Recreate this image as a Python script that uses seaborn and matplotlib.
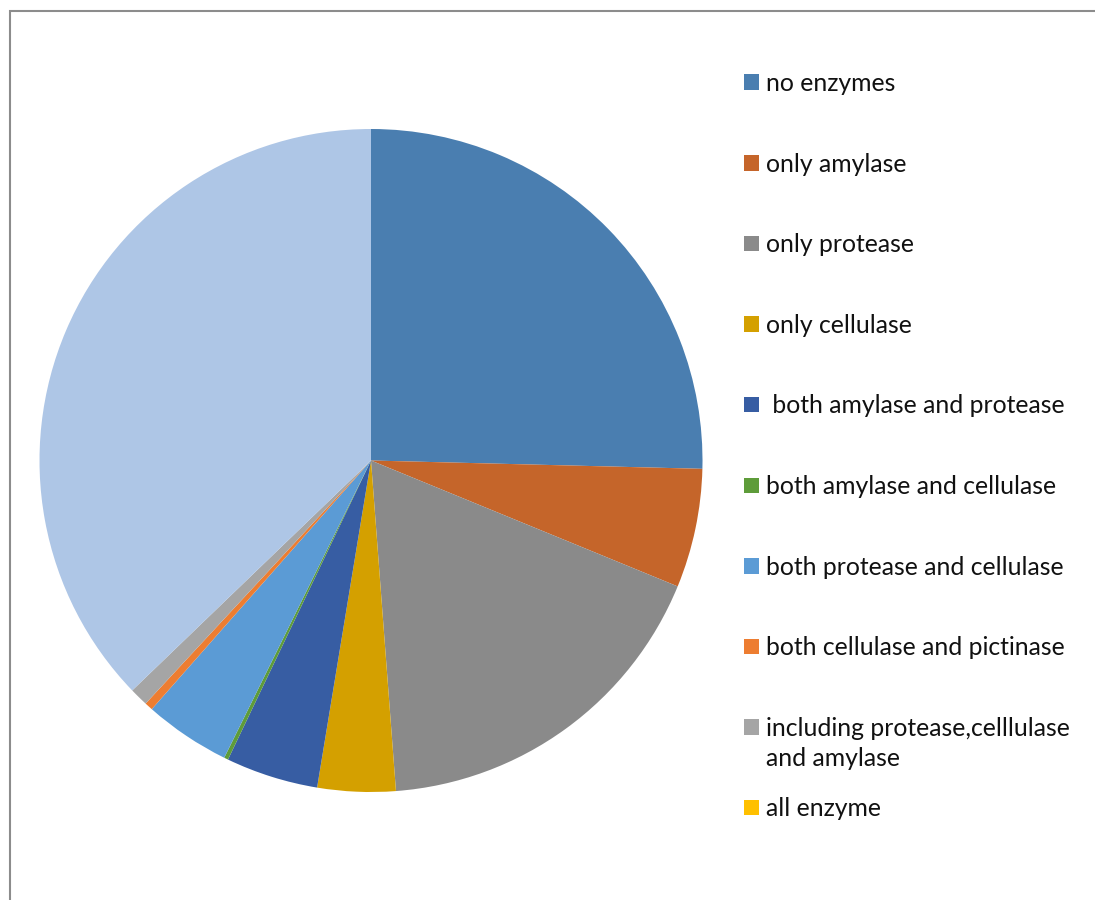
import matplotlib
matplotlib.use("Agg")
import matplotlib.pyplot as plt
from matplotlib.patches import Rectangle
import seaborn as sns

# enzyme groups (percent of isolates)
labels = ["no enzymes", "only amylase", "only protease", "only cellulase",
          " both amylase and protease", "both amylase and cellulase",
          "both protease and cellulase", "both cellulase and pictinase",
          "including protease,celllulase\nand amylase", "all enzyme", ""]
values = [25.4, 5.8, 17.6, 3.8, 4.5, 0.2, 4.2, 0.4, 0.9, 0.0, 37.2]
colors = ["#4A7EB0", "#C5652A", "#8A8A8A", "#D4A000", "#375DA3", "#5E9C3A",
          "#5B9BD5", "#ED7D31", "#A5A5A5", "#FFC000", "#AEC6E6"]

sns.set_theme(style="white")
plt.rcParams["font.family"] = ["Lato", "DejaVu Sans"]

W, H = 1095, 900
fig = plt.figure(figsize=(W / 100, H / 100), dpi=100)

# pie centred at (371, 460) px, radius 331 px
cx, cy, r = 371, 460.5, 331.5
ax = fig.add_axes([(cx - r) / W, (H - cy - r) / H, 2 * r / W, 2 * r / H])
pal = sns.color_palette(colors)
ax.pie(values, colors=pal, startangle=90, counterclock=False,
       wedgeprops=dict(linewidth=0))
ax.set_xlim(-1, 1)
ax.set_ylim(-1, 1)
ax.set_aspect("equal")
ax.axis("off")

# chart frame
fig.add_artist(Rectangle((9.5 / W, -0.1), 1.2, 1.1 - 11.5 / H,
                         transform=fig.transFigure, fill=False,
                         edgecolor="#8C8C8C", linewidth=1.5))

# legend, drawn like the spreadsheet one
y0, step = 82, 80.6
for i, lab in enumerate(labels[:10]):
    yc = y0 + i * step
    fig.add_artist(Rectangle((744 / W, 1 - (yc + 8) / H), 15 / W, 15.5 / H,
                             transform=fig.transFigure,
                             facecolor=colors[i], edgecolor="none"))
    fig.text(766 / W, 1 - (yc - 10) / H, lab, fontsize=17.8, va="top",
             ha="left", color="#111111", linespacing=1.4)

fig.savefig("out.png", dpi=100)
